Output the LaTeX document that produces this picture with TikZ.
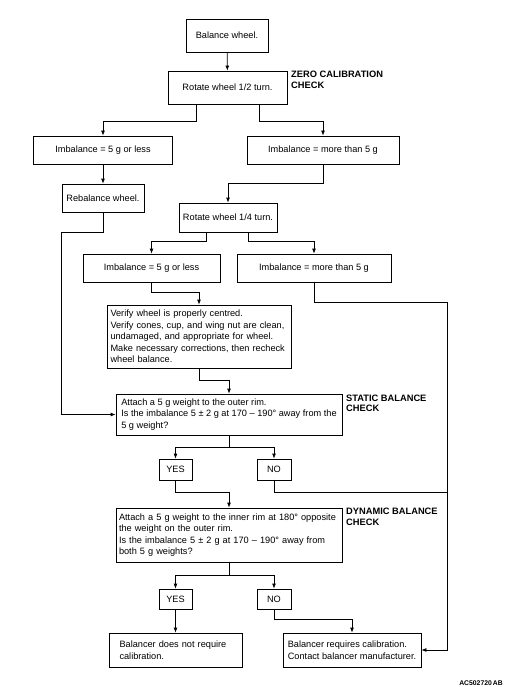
\documentclass[tikz,border=0pt]{standalone}
\usepackage{fontspec}
\setmainfont{Liberation Sans}
\usetikzlibrary{arrows.meta,calc}
\begin{document}
\begin{tikzpicture}[x=1pt,y=-1pt,
  box/.style={draw, line width=0.8pt, inner sep=0pt, align=center,
    font=\fontsize{9.2}{11.5}\selectfont},
  lbox/.style={box, align=left},
  ln/.style={line width=0.8pt},
  arr/.style={line width=0.8pt, -{Latex[length=5pt,width=4pt]}},
  lab/.style={font=\fontsize{9.3}{10.5}\selectfont\bfseries, align=left,
    inner sep=0pt, anchor=north west}]
\useasboundingbox (0,0) rectangle (505,687);

% boxes
\node[box, minimum width=82pt, minimum height=33pt] (bw) at (227,35.5) {Balance wheel.};
\node[box, minimum width=119pt, minimum height=33pt] (r12) at (227.5,87.5) {Rotate wheel 1/2 turn.};
\node[box, minimum width=139pt, minimum height=28pt] (il1) at (103,150) {Imbalance = 5 g or less};
\node[box, minimum width=152pt, minimum height=28pt] (ir1) at (323,150) {Imbalance = more than 5 g};
\node[box, minimum width=82pt, minimum height=28pt] (reb) at (103,198) {Rebalance wheel.};
\node[box, minimum width=98pt, minimum height=29pt] (r14) at (228,217.5) {Rotate wheel 1/4 turn.};
\node[box, minimum width=137pt, minimum height=28pt] (il2) at (151.5,268) {Imbalance = 5 g or less};
\node[box, minimum width=154pt, minimum height=28pt] (ir2) at (314,268) {Imbalance = more than 5 g};
\node[lbox, text width=177pt, inner xsep=3.5pt, minimum height=63pt] (ver) at (199,336.5)
  {Verify wheel is properly centred.\\
   Verify cones, cup, and wing nut are clean,\\
   undamaged, and appropriate for wheel.\\
   Make necessary corrections, then recheck\\
   wheel balance.};
\node[lbox, minimum width=226pt, minimum height=41pt] (sta) at (229,414.5)
  {Attach a 5 g weight to the outer rim.\\
   Is the imbalance 5 ± 2 g at 170 – 190° away from the\\
   5 g weight?};
\node[box, minimum width=33pt, minimum height=21pt] (yes1) at (175.5,469.5) {YES};
\node[box, minimum width=34pt, minimum height=21pt] (no1) at (274,469.5) {NO};
\node[lbox, text width=220pt, inner xsep=3pt, minimum height=54pt] (dyn) at (229,535)
  {Attach a 5 g weight to the inner rim at 180° opposite\\
   the weight on the outer rim.\\
   Is the imbalance 5 ± 2 g at 170 – 190° away from\\
   both 5 g weights?};
\node[box, minimum width=33pt, minimum height=20pt] (yes2) at (175.5,599) {YES};
\node[box, minimum width=34pt, minimum height=20pt] (no2) at (274,599) {NO};
\node[lbox, text width=112pt, inner xsep=10.5pt, minimum height=34pt] (fl) at (175.5,650)
  {Balancer does not require\\ calibration.};
\node[lbox, minimum width=138pt, minimum height=34pt] (fr) at (352,650)
  {Balancer requires calibration.\\ Contact balancer manufacturer.};

% labels
\node[lab] (zc) at (291,71) {ZERO CALIBRATION\\CHECK};
\node[lab] (sb) at (346,394.5) {STATIC BALANCE\\CHECK};
\node[lab] (db) at (346,508) {DYNAMIC BALANCE\\CHECK};
\node[font=\fontsize{6.8}{8}\selectfont\bfseries, inner sep=0pt, anchor=east] (code) at (503,683) {AC502720\,AB};

% connectors
\draw[arr] (bw) -- (r12);
\draw[arr] ([xshift=-31.5pt]r12.south) -- ++(0,17) -| (il1.north);
\draw[arr] ([xshift=31.5pt]r12.south) -- ++(0,17) -| (ir1.north);
\draw[arr] (il1) -- (reb);
\draw[arr] (ir1.south) -- ++(0,19) -| (r14.north);
\draw[arr] (reb.south) -- ++(0,20) -| ([xshift=-54pt]sta.west) -- (sta.west);
\draw[arr] ([xshift=-21.5pt]r14.south) -- ++(0,9) -| (il2.north);
\draw[arr] ([xshift=20.5pt]r14.south) -- ++(0,9) -| (ir2.north);
\draw[arr] (il2.south) -- ++(0,10) -| (ver.north);
\draw[arr] (ver.south) -- ++(0,12) -| (sta.north);
\draw[arr] (ir2.south) -- ++(0,20) -| ([xshift=26pt]fr.east) coordinate (rc) -- (fr.east);
\draw[ln] (sta.south) -- ++(0,12) coordinate (s1);
\draw[arr] (s1) -| (yes1.north);
\draw[arr] (s1) -| (no1.north);
\draw[ln] (no1.south) -- ++(0,12) coordinate (n1) -- (n1 -| rc);
\draw[arr] (yes1.south) -- ++(0,12) -| (dyn.north);
\draw[ln] (dyn.south) -- ++(0,13) coordinate (d1);
\draw[arr] (d1) -| (yes2.north);
\draw[arr] (d1) -| (no2.north);
\draw[arr] (yes2) -- (fl);
\draw[arr] (no2.south) -- ++(0,10) -| (fr.north);
\end{tikzpicture}
\end{document}
